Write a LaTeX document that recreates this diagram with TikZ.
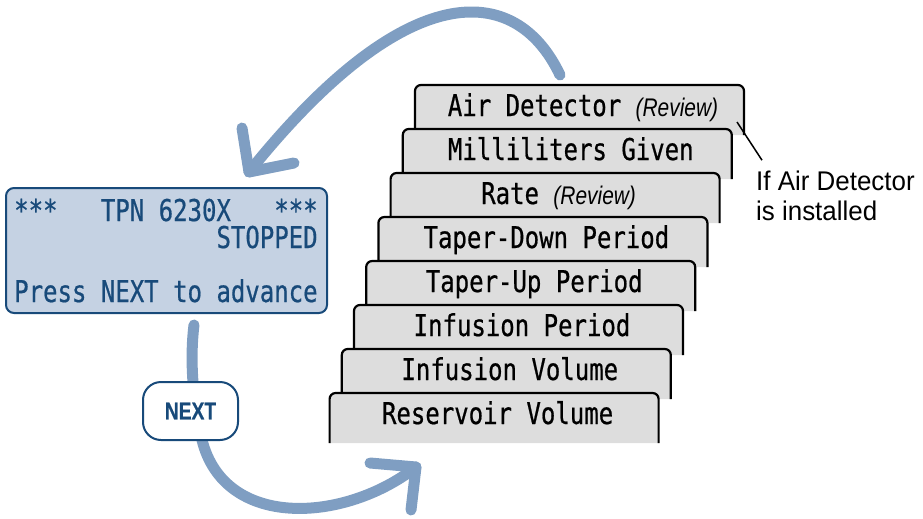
\documentclass[tikz,border=0pt]{standalone}
\usepackage{fontspec}
\newfontfamily\lcdfont[FakeStretch=0.8,FakeBold=0.6]{DejaVu Sans Mono}
\newfontfamily\condfont[FakeStretch=0.82]{Liberation Sans}
\newfontfamily\notefont[FakeStretch=0.96]{Liberation Sans}
\newfontfamily\btnfont[FakeStretch=0.8,FakeBold=0.5]{Liberation Sans}
\newcommand\revtxt[1]{{\condfont\itshape\fontsize{25.5}{26}\selectfont #1}}
\definecolor{arrowblue}{RGB}{127,158,194}
\definecolor{lcdfill}{RGB}{197,210,227}
\definecolor{lcdblue}{RGB}{24,74,122}
\definecolor{cardgray}{RGB}{221,221,221}
\tikzset{
  cyc/.style={line width=11pt, draw=arrowblue, line cap=round, line join=round},
  card/.style={fill=cardgray, draw=black, line width=2.2pt, rounded corners=6pt},
  cardtext/.style={inner sep=0pt, anchor=base, font={\lcdfont\fontsize{30}{30}\selectfont}},
  lcdtext/.style={inner sep=0pt, anchor=base west, text=lcdblue, font={\lcdfont\fontsize{30}{30}\selectfont}},
  notetext/.style={inner sep=0pt, anchor=base west, font={\notefont\fontsize{27}{28}\selectfont}},
}
\begin{document}
\begin{tikzpicture}[x=1pt,y=-1pt]
\useasboundingbox (0,0) rectangle (923,519);
% cycle arrows
\coordinate (tstart) at (560,75);
\coordinate (ttip) at (249,172);
\coordinate (ta1) at (242,128);
\coordinate (ta2) at (294,163);
\draw[cyc] (tstart) .. controls (515,-20) and (405,-22.5) .. (ttip);
\draw[cyc] (ta1) -- (ttip) -- (ta2);
\coordinate (bstart) at (194,325);
\coordinate (bmid) at (202,440);
\coordinate (btip) at (416,467);
\coordinate (ba1) at (370,463);
\coordinate (ba2) at (411,510);
\draw[cyc] (bstart) .. controls (189,365) and (194.5,410) .. (bmid)
  .. controls (224.5,530) and (344.8,522.8) .. (btip);
\draw[cyc] (ba1) -- (btip) -- (ba2);
% LCD
\node[draw=lcdblue, fill=lcdfill, line width=2pt, rounded corners=8pt,
  minimum width=321pt, minimum height=125pt, inner sep=0pt] (lcd) at (166.5,250.5) {};
\node[lcdtext] (ast1) at (14,221) {***};
\node[lcdtext] (tpn) at (100.7,221) {TPN 6230X};
\node[lcdtext] (ast2) at (274.1,221) {***};
\node[lcdtext] (stopped) at (216.3,248) {STOPPED};
\node[lcdtext] (press) at (14,302) {Press NEXT to advance};
% NEXT button
\node[draw=lcdblue, fill=white, line width=2pt, rounded corners=18pt,
  minimum width=95pt, minimum height=58pt, inner sep=0pt, text=lcdblue,
  font={\btnfont\bfseries\fontsize{24}{24}\selectfont}] (next) at (190.5,411) {NEXT};
% cards
\foreach \i/\lbl in {0/{Air Detector \revtxt{(Review)}}, 1/{Milliliters Given},
  2/{Rate \revtxt{(Review)}}, 3/{Taper-Down Period}, 4/{Taper-Up Period},
  5/{Infusion Period}, 6/{Infusion Volume}, 7/{Reservoir Volume}} {
  \pgfmathsetmacro\L{415-12.2*\i}
  \pgfmathsetmacro\R{744-12.2*\i}
  \pgfmathsetmacro\T{85+44*\i}
  \pgfmathsetmacro\B{\T+50}
  \pgfmathsetmacro\C{(\L+\R)/2+3.5}
  \pgfmathsetmacro\Y{\T+31}
  \filldraw[card] (\L,\B) -- (\L,\T) -- (\R,\T) -- (\R,\B);
  \node[cardtext] (card\i) at (\C,\Y) {\lbl};
}
% note
\node[notetext] (note1) at (756,190) {If Air Detector};
\node[notetext] (note2) at (756,220) {is installed};
\coordinate (ptr) at (737,122);
\draw[line width=1.5pt] (ptr) -- ([shift={(6,-10)}]note1.north west);
\end{tikzpicture}
\end{document}
